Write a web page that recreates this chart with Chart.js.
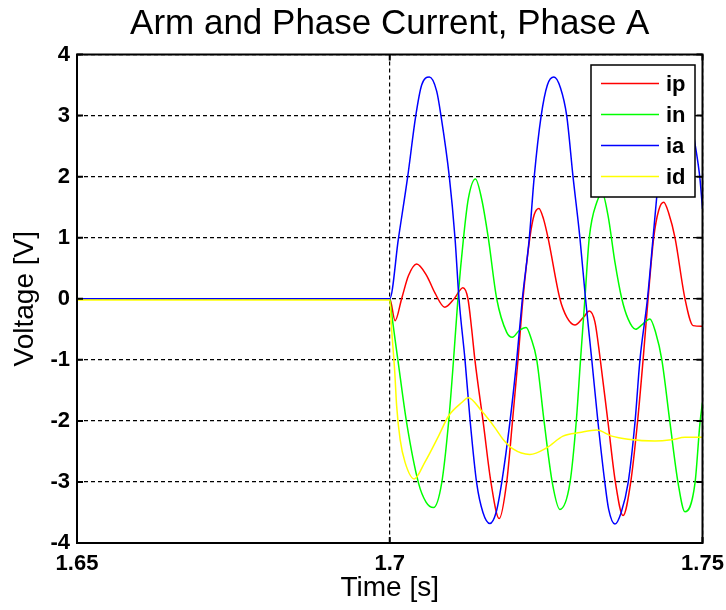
<!DOCTYPE html>
<html>
<head>
<meta charset="utf-8">
<title>Arm and Phase Current, Phase A</title>
<script src="https://cdn.jsdelivr.net/npm/chart.js@4.4.1/dist/chart.umd.min.js"></script>
<style>
  html, body { margin: 0; padding: 0; background: #fff; }
  canvas { display: block; }
</style>
</head>
<body>
<canvas id="chart" width="726" height="610"></canvas>
<script>
// series names / colours, in legend order
const seriesNames = ['ip', 'in', 'ia', 'id']
const seriesColors = ['#ff0000', '#00ff00', '#0000ff', '#ffff00']

const xTicks = [1.65, 1.7, 1.75]
const yTicks = [-4, -3, -2, -1, 0, 1, 2, 3, 4]

// values (time in s, current in the plot's units)
const ipTime = [1.65, 1.7, 1.70085, 1.7019, 1.703, 1.7043, 1.7059, 1.7072, 1.7088, 1.7103, 1.7117, 1.7125, 1.7131, 1.7136, 1.71495, 1.7162, 1.7175, 1.7187, 1.7196, 1.7205, 1.7213, 1.7224, 1.7231, 1.72385, 1.7246, 1.7253, 1.7272, 1.7283, 1.7296, 1.731, 1.7319, 1.7328, 1.7336, 1.7349, 1.7361, 1.7373, 1.7385, 1.7396, 1.7405, 1.7413, 1.7422, 1.743, 1.7438, 1.7446, 1.7456, 1.7472, 1.7485, 1.75]
const ipValues = [0, 0, -0.36, 0, 0.38, 0.57, 0.38, 0.1, -0.14, 0, 0.18, 0, -0.5, -0.99, -2.03, -3.02, -3.6, -3.0, -2.03, -1.0, 0, 1.0, 1.38, 1.48, 1.3, 1.0, 0, -0.3, -0.43, -0.3, -0.2, -0.38, -0.95, -2.03, -3.02, -3.55, -3.02, -2.03, -1.0, 0, 1.0, 1.45, 1.58, 1.4, 1.0, 0, -0.44, -0.45]

const inTime = [1.65, 1.7, 1.7002, 1.7013, 1.7027, 1.7046, 1.7058, 1.707, 1.7083, 1.7094, 1.7102, 1.7109, 1.7118, 1.71255, 1.7137, 1.7147, 1.71575, 1.7171, 1.7187, 1.7196, 1.7207, 1.7218, 1.7226, 1.7235, 1.7247, 1.726, 1.7272, 1.7288, 1.7298, 1.7305, 1.7312, 1.7319, 1.7331, 1.734, 1.7349, 1.736, 1.7371, 1.7381, 1.7393, 1.7404, 1.7416, 1.7425, 1.7435, 1.7448, 1.7461, 1.7472, 1.7488, 1.7496, 1.75]
const inValues = [0, 0, -0.17, -1.0, -2.03, -3.02, -3.33, -3.42, -3.02, -2.03, -1.0, 0, 1.0, 1.63, 1.96, 1.63, 1.0, 0, -0.55, -0.63, -0.52, -0.47, -0.65, -1.0, -2.03, -3.02, -3.45, -3.02, -2.03, -1.0, 0, 1.0, 1.58, 1.72, 1.36, 0.6, 0, -0.33, -0.5, -0.42, -0.33, -0.55, -1.0, -2.03, -3.02, -3.49, -3.02, -2.03, -1.7]

const iaTime = [1.65, 1.7, 1.70138, 1.70287, 1.70415, 1.7051, 1.70633, 1.7075, 1.7082, 1.70952, 1.71043, 1.71107, 1.71203, 1.71288, 1.7139, 1.7149, 1.716, 1.717, 1.7179, 1.7192, 1.7203, 1.7212, 1.7223, 1.7231, 1.7242, 1.7252, 1.72625, 1.7273, 1.7283, 1.7293, 1.7304, 1.7313, 1.7323, 1.7333, 1.7344, 1.735, 1.736, 1.737, 1.7381, 1.7392, 1.74, 1.7412, 1.7421, 1.74265, 1.7431, 1.74415, 1.74515, 1.7462, 1.74725, 1.7488, 1.7496, 1.75]
const iaValues = [0, 0, 0.98, 2.0, 2.99, 3.5, 3.63, 3.4, 2.99, 2.0, 1.0, 0, -1.0, -2.03, -3.02, -3.5, -3.68, -3.5, -3.01, -2.03, -1.0, 0, 0.98, 2.0, 2.99, 3.5, 3.63, 3.45, 2.99, 2.0, 1.0, 0, -1.0, -2.03, -3.02, -3.45, -3.69, -3.5, -3.02, -2.03, -1.0, 0, 1.0, 1.63, 2.05, 3.0, 3.5, 3.63, 3.45, 2.54, 1.96, 1.47]

const idTime = [1.65, 1.7, 1.7003, 1.7008, 1.7011, 1.70165, 1.70245, 1.7039, 1.7056, 1.7078, 1.7094, 1.7115, 1.71255, 1.7147, 1.7168, 1.7181, 1.7197, 1.7224, 1.7251, 1.7277, 1.7304, 1.7331, 1.7355, 1.7381, 1.7424, 1.745, 1.7472, 1.75]
const idValues = [-0.02, -0.02, -0.5, -1.2, -1.75, -2.3, -2.68, -2.95, -2.68, -2.25, -1.92, -1.7, -1.62, -1.84, -2.11, -2.3, -2.46, -2.55, -2.44, -2.25, -2.19, -2.15, -2.25, -2.3, -2.33, -2.31, -2.27, -2.27]

function points(times, values) {
    return times.map((t, i) => ({ x: t, y: values[i] }))
}

const allTimes = [ipTime, inTime, iaTime, idTime]
const allValues = [ipValues, inValues, iaValues, idValues]

const FONT = "'Liberation Sans', Arial, Helvetica, sans-serif"
Chart.defaults.font.family = FONT
Chart.defaults.color = '#000'

// box, inward ticks and the legend drawn on top of the lines (like matlab)
const axesBox = {
    id: 'axesBox',
    afterDraw(chart) {
        const ctx = chart.ctx
        const a = chart.chartArea
        const xs = chart.scales.x
        const ys = chart.scales.y
        ctx.save()
        ctx.strokeStyle = '#000'
        ctx.lineWidth = 2
        ctx.setLineDash([])
        ctx.beginPath()
        for (const v of yTicks) {
            const py = ys.getPixelForValue(v)
            ctx.moveTo(a.left, py); ctx.lineTo(a.left + 6, py)
            ctx.moveTo(a.right, py); ctx.lineTo(a.right - 6, py)
        }
        for (const v of xTicks) {
            const px = xs.getPixelForValue(v)
            ctx.moveTo(px, a.bottom); ctx.lineTo(px, a.bottom - 6)
            ctx.moveTo(px, a.top); ctx.lineTo(px, a.top + 6)
        }
        ctx.stroke()
        ctx.strokeRect(a.left, a.top, a.right - a.left, a.bottom - a.top)

        // legend
        const w = 104, h = 132
        const lx = a.right - 7.5 - w
        const ly = a.top + 10.5
        ctx.fillStyle = '#fff'
        ctx.fillRect(lx, ly, w, h)
        ctx.lineWidth = 1.5
        ctx.strokeRect(lx, ly, w, h)
        ctx.font = 'bold 22px ' + FONT
        ctx.textBaseline = 'middle'
        ctx.textAlign = 'left'
        for (let i = 0; i < seriesNames.length; i++) {
            const ry = ly + 18.5 + i * 31
            ctx.strokeStyle = seriesColors[i]
            ctx.lineWidth = 1.5
            ctx.beginPath()
            ctx.moveTo(lx + 10, ry)
            ctx.lineTo(lx + 68, ry)
            ctx.stroke()
            ctx.fillStyle = '#000'
            ctx.fillText(seriesNames[i], lx + 75, ry + 1)
        }
        ctx.restore()
    }
}

const datasets = seriesNames.map((name, i) => ({
    label: name,
    data: points(allTimes[i], allValues[i]),
    borderColor: seriesColors[i],
    backgroundColor: seriesColors[i],
    borderWidth: 1.5,
    pointRadius: 0,
    fill: false,
    cubicInterpolationMode: 'monotone',
    order: seriesNames.length - i
}))

new Chart(document.getElementById('chart'), {
    type: 'line',
    data: { datasets: datasets },
    options: {
        responsive: false,
        animation: false,
        layout: { padding: { left: 0, right: 23.5, top: 0, bottom: 0 } },
        plugins: {
            legend: { display: false },
            tooltip: { enabled: false },
            title: {
                display: true,
                fullSize: false,
                text: 'Arm and Phase Current, Phase A',
                color: '#000',
                font: { size: 35, weight: 'normal', lineHeight: 1.2 },
                padding: { top: 3.5, bottom: 9 }
            }
        },
        scales: {
            x: {
                type: 'linear',
                min: 1.65,
                max: 1.75,
                afterBuildTicks: (scale) => { scale.ticks = xTicks.map(v => ({ value: v })) },
                afterFit: (scale) => { scale.height = 67; scale.paddingLeft = 0; scale.paddingRight = 0 },
                ticks: {
                    padding: 8,
                    maxRotation: 0,
                    color: '#000',
                    font: { size: 22, weight: 'bold' },
                    callback: (v) => String(parseFloat(Number(v).toFixed(2)))
                },
                grid: { color: '#000', lineWidth: 1.2, drawTicks: false },
                border: { display: false, dash: [4, 3] },
                title: {
                    display: true,
                    text: 'Time [s]',
                    color: '#000',
                    font: { size: 28, weight: 'normal', lineHeight: 1.2 },
                    padding: { top: 0, bottom: 5 }
                }
            },
            y: {
                type: 'linear',
                min: -4,
                max: 4,
                afterBuildTicks: (scale) => { scale.ticks = yTicks.map(v => ({ value: v })) },
                afterFit: (scale) => { scale.width = 77; scale.paddingTop = 0; scale.paddingBottom = 0 },
                ticks: {
                    padding: 7,
                    color: '#000',
                    font: { size: 22, weight: 'bold' },
                    callback: (v) => String(v)
                },
                grid: { color: '#000', lineWidth: 1.2, drawTicks: false },
                border: { display: false, dash: [4, 3] },
                title: {
                    display: true,
                    text: 'Voltage [V]',
                    color: '#000',
                    font: { size: 28, weight: 'normal', lineHeight: 1.2 },
                    padding: { top: 8, bottom: 0 }
                }
            }
        }
    },
    plugins: [axesBox]
})
</script>
</body>
</html>
